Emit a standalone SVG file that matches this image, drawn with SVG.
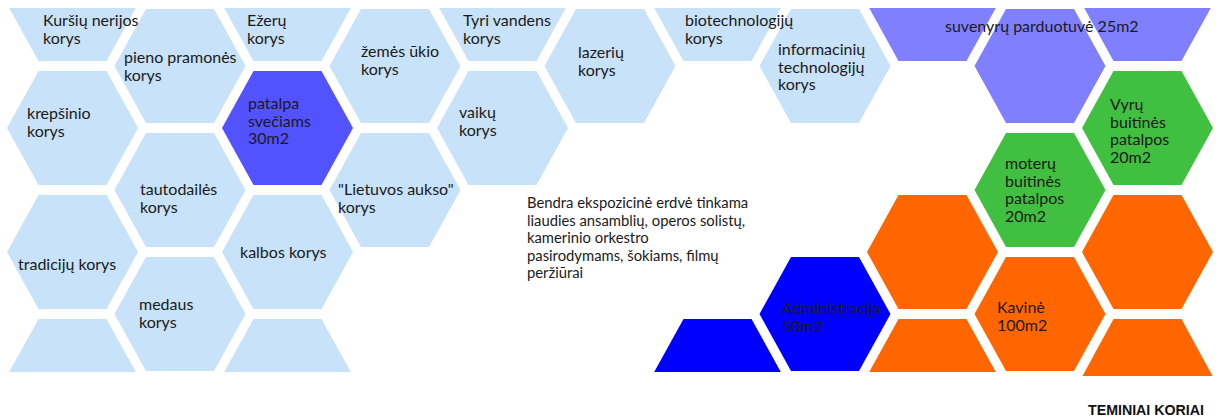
<svg xmlns="http://www.w3.org/2000/svg" xmlns:xlink="http://www.w3.org/1999/xlink" width="1216" height="419" viewBox="0 0 1216 419">
<style>
.lb{fill:#C8E2F9}.db{fill:#5252FF}.pu{fill:#8080FF}.gr{fill:#40BF40}.or{fill:#FF6600}.bl{fill:#0000FF}
text{font-family:Lato,"Open Sans","Liberation Sans",sans-serif;font-size:16px;fill:#1a1a1a}
.body{font-size:14.8px}
.title{font-family:"Liberation Sans",Arial,sans-serif;font-weight:bold;font-size:14.2px;fill:#111}
</style>
<defs>
<polygon id="hex" points="-65.5,0 -34,-57 34,-57 65.5,0 34,57 -34,57"/>
<polygon id="tt" points="-63.3,4 63.3,4 34,57 -34,57"/>
<polygon id="tb" points="-34,-57 34,-57 63.3,-4 -63.3,-4"/>
</defs>
<rect width="1216" height="419" fill="#fff"/>
<g id="connectors"/>
<g id="n-pieno"><use href="#hex" x="180" y="66" class="lb"/><text x="124" y="63"><tspan x="124">pieno pramonės</tspan><tspan x="124" dy="17.5">korys</tspan></text></g>
<g id="n-kursiu"><use href="#tt" x="72.5" y="4" class="lb"/><text x="43" y="26"><tspan x="43">Kuršių nerijos</tspan><tspan x="43" dy="17.5">korys</tspan></text></g>
<g id="n-krepsinio"><use href="#hex" x="72.5" y="128" class="lb"/><text x="27" y="119"><tspan x="27">krepšinio</tspan><tspan x="27" dy="17.5">korys</tspan></text></g>
<g id="n-tradiciju"><use href="#hex" x="72.5" y="252" class="lb"/><text x="18" y="270">tradicijų korys</text></g>
<g id="n-c0b"><use href="#tb" x="72.5" y="376" class="lb"/></g>
<g id="n-tautodailes"><use href="#hex" x="180" y="190" class="lb"/><text x="140" y="195"><tspan x="140">tautodailės</tspan><tspan x="140" dy="17.5">korys</tspan></text></g>
<g id="n-medaus"><use href="#hex" x="180" y="314" class="lb"/><text x="139" y="310"><tspan x="139">medaus</tspan><tspan x="139" dy="17.5">korys</tspan></text></g>
<g id="n-ezeru"><use href="#tt" x="287.5" y="4" class="lb"/><text x="247" y="26"><tspan x="247">Ežerų</tspan><tspan x="247" dy="17.5">korys</tspan></text></g>
<g id="n-patalpa"><use href="#hex" x="287.5" y="128" class="db"/><text x="248" y="109"><tspan x="248">patalpa</tspan><tspan x="248" dy="17.5">svečiams</tspan><tspan x="248" dy="17.5">30m2</tspan></text></g>
<g id="n-kalbos"><use href="#hex" x="287.5" y="252" class="lb"/><text x="240" y="258">kalbos korys</text></g>
<g id="n-c2b"><use href="#tb" x="287.5" y="376" class="lb"/></g>
<g id="n-zemes"><use href="#hex" x="395" y="66" class="lb"/><text x="361" y="57"><tspan x="361">žemės ūkio</tspan><tspan x="361" dy="17.5">korys</tspan></text></g>
<g id="n-lietuvos"><use href="#hex" x="395" y="190" class="lb"/><text x="338" y="195"><tspan x="338">"Lietuvos aukso"</tspan><tspan x="338" dy="17.5">korys</tspan></text></g>
<g id="n-tyri"><use href="#tt" x="502.5" y="4" class="lb"/><text x="463" y="26"><tspan x="463">Tyri vandens</tspan><tspan x="463" dy="17.5">korys</tspan></text></g>
<g id="n-vaiku"><use href="#hex" x="502.5" y="128" class="lb"/><text x="459" y="118"><tspan x="459">vaikų</tspan><tspan x="459" dy="17.5">korys</tspan></text></g>
<g id="n-lazeriu"><use href="#hex" x="610" y="66" class="lb"/><text x="578" y="58"><tspan x="578">lazerių</tspan><tspan x="578" dy="17.5">korys</tspan></text></g>
<g id="n-info"><use href="#hex" x="825" y="66" class="lb"/><text x="778" y="55"><tspan x="778">informacinių</tspan><tspan x="778" dy="17.5">technologijų</tspan><tspan x="778" dy="17.5">korys</tspan></text></g>
<g id="n-bio"><use href="#tt" x="717.5" y="4" class="lb"/><text x="685" y="26"><tspan x="685">biotechnologijų</tspan><tspan x="685" dy="17.5">korys</tspan></text></g>
<g id="n-c6b"><use href="#tb" x="717.5" y="376" class="bl"/></g>
<g id="n-admin"><use href="#hex" x="825" y="314" class="bl"/><text x="782" y="314"><tspan x="782">Administracija</tspan><tspan x="782" dy="17.5">50m2</tspan></text></g>
<g id="n-c8t"><use href="#tt" x="932.5" y="4" class="pu"/></g>
<g id="n-c8o"><use href="#hex" x="932.5" y="252" class="or"/></g>
<g id="n-c8b"><use href="#tb" x="932.5" y="376" class="or"/></g>
<g id="n-c9p"><use href="#hex" x="1040" y="66" class="pu"/></g>
<g id="n-moteru"><use href="#hex" x="1040" y="190" class="gr"/><text x="1005" y="169"><tspan x="1005">moterų</tspan><tspan x="1005" dy="17.5">buitinės</tspan><tspan x="1005" dy="17.5">patalpos</tspan><tspan x="1005" dy="17.5">20m2</tspan></text></g>
<g id="n-kavine"><use href="#hex" x="1040" y="314" class="or"/><text x="997" y="313"><tspan x="997">Kavinė</tspan><tspan x="997" dy="17.5">100m2</tspan></text></g>
<g id="n-c10t"><use href="#tt" x="1147.5" y="4" class="pu"/></g>
<g id="n-vyru"><use href="#hex" x="1147.5" y="128" class="gr"/><text x="1110" y="110"><tspan x="1110">Vyrų</tspan><tspan x="1110" dy="17.5">buitinės</tspan><tspan x="1110" dy="17.5">patalpos</tspan><tspan x="1110" dy="17.5">20m2</tspan></text></g>
<g id="n-c10o"><use href="#hex" x="1147.5" y="252" class="or"/></g>
<g id="n-c10b"><polygon class="or" points="1113.5,319 1181.5,319 1212.5,376 1082.5,376"/></g>
<g id="n-suvenyru"><text x="945" y="32">suvenyrų parduotuvė 25m2</text></g>
<g id="n-bendra"><text class="body" x="527" y="208"><tspan x="527">Bendra ekspozicinė erdvė tinkama</tspan><tspan x="527" dy="17.6">liaudies ansamblių, operos solistų,</tspan><tspan x="527" dy="17.6">kamerinio orkestro</tspan><tspan x="527" dy="17.6">pasirodymams, šokiams, filmų</tspan><tspan x="527" dy="17.6">peržiūrai</tspan></text></g>
<g id="n-title"><text class="title" x="1088" y="415">TEMINIAI KORIAI</text></g>
</svg>
